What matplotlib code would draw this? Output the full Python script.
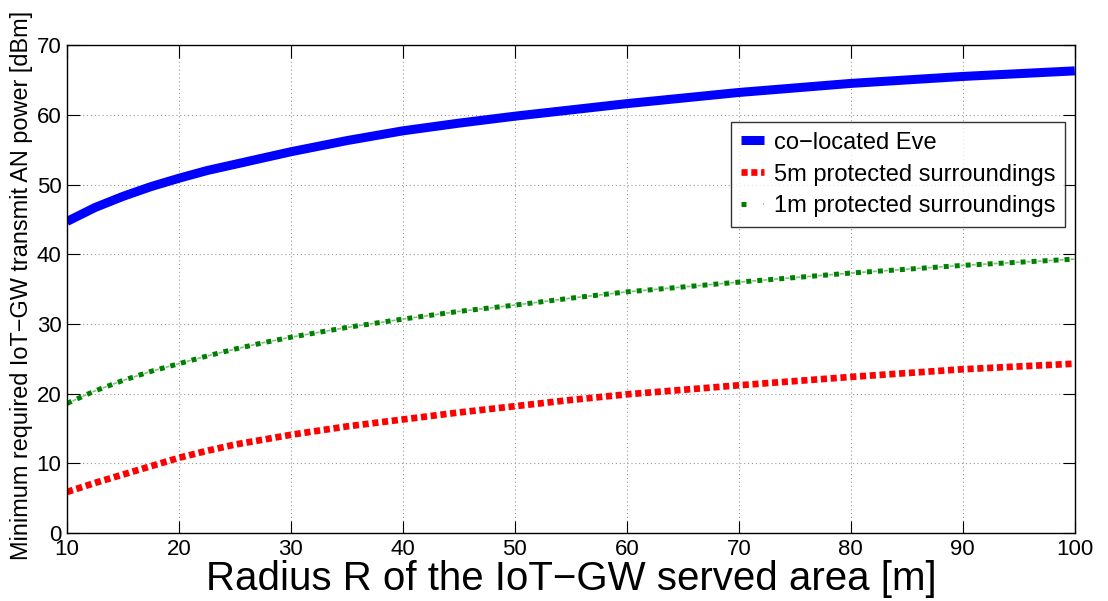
import matplotlib
matplotlib.use("Agg")
import matplotlib.pyplot as plt
from matplotlib.legend_handler import HandlerTuple

radius = [10, 12.5, 15, 17.5, 20, 22.5, 25, 27.5, 30, 35, 40, 45, 50, 55, 60, 70, 80, 90, 100]
colocated_eve = [44.7, 46.7, 48.3, 49.7, 50.9, 52.0, 52.9, 53.8, 54.7, 56.3, 57.7,
                 58.8, 59.8, 60.7, 61.6, 63.2, 64.5, 65.5, 66.3]
protected_5m = [5.9, 7.2, 8.4, 9.6, 10.8, 11.8, 12.7, 13.4, 14.1, 15.3, 16.3,
                17.3, 18.2, 19.1, 19.9, 21.2, 22.4, 23.5, 24.3]
protected_1m = [18.6, 20.4, 21.9, 23.2, 24.3, 25.4, 26.4, 27.3, 28.1, 29.5, 30.7,
                31.8, 32.7, 33.7, 34.6, 36.0, 37.3, 38.4, 39.3]
labels = ["co\u2212located Eve", "5m protected surroundings", "1m protected surroundings"]
xticks = [10, 20, 30, 40, 50, 60, 70, 80, 90, 100]
yticks = [0, 10, 20, 30, 40, 50, 60, 70]

plt.rcParams["font.family"] = ["Liberation Sans", "DejaVu Sans"]

fig = plt.figure(figsize=(11.08, 6.01), dpi=100)
ax = fig.add_axes([0.0605, 0.113, 0.9095, 0.812])

l1, = ax.plot(radius, colocated_eve, color="#0000ff", lw=6.5, solid_capstyle="butt")
l2, = ax.plot(radius, protected_5m, color="#ff0000", lw=4.8, dash_capstyle="butt",
              linestyle=(0, (0.92, 0.55)))
l3a, = ax.plot(radius, protected_1m, color="#008000", lw=3.6, dash_capstyle="butt",
               linestyle=(0, (1.0, 1.2)))
l3b, = ax.plot(radius, protected_1m, color="#80c080", lw=1.2, dash_capstyle="butt",
               linestyle=(3.0, (2.4, 4.2)))

ax.set_xlim(10, 100)
ax.set_ylim(0, 70)
ax.set_xticks(xticks)
ax.set_yticks(yticks)
ax.set_xticklabels([str(v) for v in xticks], fontsize=16)
ax.set_yticklabels([str(v) for v in yticks], fontsize=16)
ax.tick_params(direction="in", length=9, width=0.8, top=True, right=True, pad=4)
ax.grid(True, color="#999999", linestyle=(0, (1, 2.5)), linewidth=0.8)
for s in ax.spines.values():
    s.set_linewidth(1.0)

ax.set_xlabel("Radius R of the IoT\u2212GW served area [m]", fontsize=29, labelpad=0)
ax.set_ylabel("Minimum required IoT\u2212GW transmit AN power [dBm]", fontsize=16.9)
ax.yaxis.set_label_coords(-0.034, 0.508)

leg = ax.legend([l1, l2, (l3a, l3b)], labels, loc="upper left",
                bbox_to_anchor=(0.659, 0.842), fontsize=17, frameon=True, fancybox=False,
                edgecolor="black", handlelength=1.0, handletextpad=0.42, borderpad=0.4,
                labelspacing=0.42, borderaxespad=0,
                handler_map={tuple: HandlerTuple(ndivide=None)})
leg.get_frame().set_linewidth(1.0)

fig.savefig("out.png", dpi=100)
